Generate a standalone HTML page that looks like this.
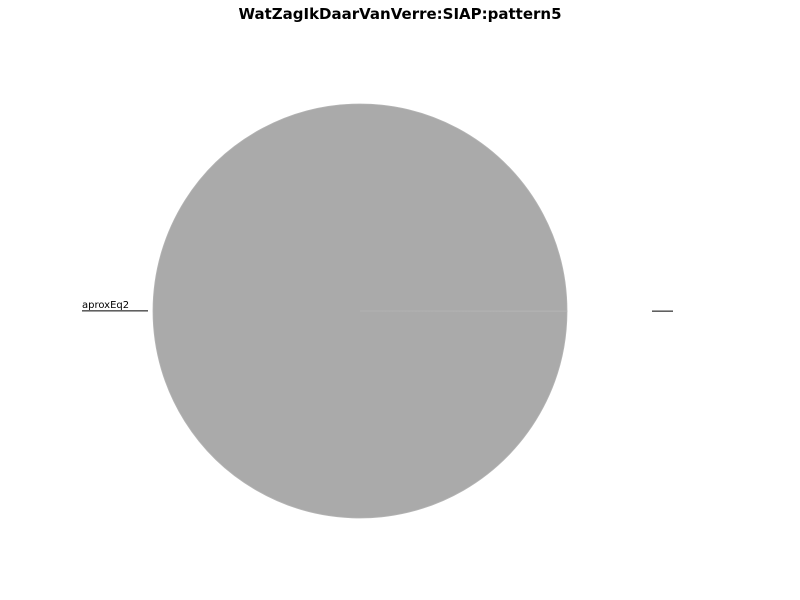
<!DOCTYPE html>
<html><head><meta charset="utf-8"><style>
html,body{margin:0;padding:0;background:#fff;width:800px;height:600px;overflow:hidden}
text{font-family:"DejaVu Sans","Liberation Sans",sans-serif}
</style></head><body>
<svg id="chart" width="800" height="600" viewBox="0 0 800 600">
<text x="400" y="19" text-anchor="middle" font-size="15" font-weight="bold" fill="#000">WatZagIkDaarVanVerre:SIAP:pattern5</text>
<g id="slices"></g>
<g id="labels"></g>
</svg>
<script>
const categories = ["aproxEq2", ""];
const values = [100, 0.02];
const colors = ["#aaaaaa", "#aaaaaa"];

const cx = 360, cy = 311, r = 207;
const total = values.reduce((a, b) => a + b, 0);
const sg = document.getElementById('slices');
const lg = document.getElementById('labels');
const NS = 'http://www.w3.org/2000/svg';
let a0 = 0;
values.forEach((v, i) => {
  const sweep = v / total * 2 * Math.PI;
  const a1 = a0 + sweep;
  const x0 = cx + r * Math.cos(a0), y0 = cy - r * Math.sin(a0);
  const x1 = cx + r * Math.cos(a1), y1 = cy - r * Math.sin(a1);
  const large = sweep > Math.PI ? 1 : 0;
  const p = document.createElementNS(NS, 'path');
  p.setAttribute('d', `M${cx},${cy} L${x0},${y0} A${r},${r} 0 ${large} 0 ${x1},${y1} Z`);
  p.setAttribute('fill', colors[i]);
  p.setAttribute('stroke', '#b4b4b4');
  p.setAttribute('stroke-width', '0.8');
  
  
  sg.appendChild(p);
  const mid = (a0 + a1) / 2;
  const right = Math.cos(mid) >= 0;
  const ly = cy - r * Math.sin(mid);
  const l = document.createElementNS(NS, 'line');
  const lx1 = right ? cx + 292 : 82, lx2 = right ? cx + 313 : cx - 212;
  l.setAttribute('x1', lx1); l.setAttribute('x2', lx2);
  l.setAttribute('y1', ly); l.setAttribute('y2', ly);
  l.setAttribute('stroke', '#000'); l.setAttribute('stroke-width', '1');
  
  
  lg.appendChild(l);
  const t = document.createElementNS(NS, 'text');
  t.setAttribute('x', lx1); t.setAttribute('y', ly - 3);
  t.setAttribute('font-size', '10'); t.setAttribute('fill', '#000');
  t.textContent = categories[i];
  
  
  lg.appendChild(t);
  a0 = a1;
});
</script>
</body></html>
